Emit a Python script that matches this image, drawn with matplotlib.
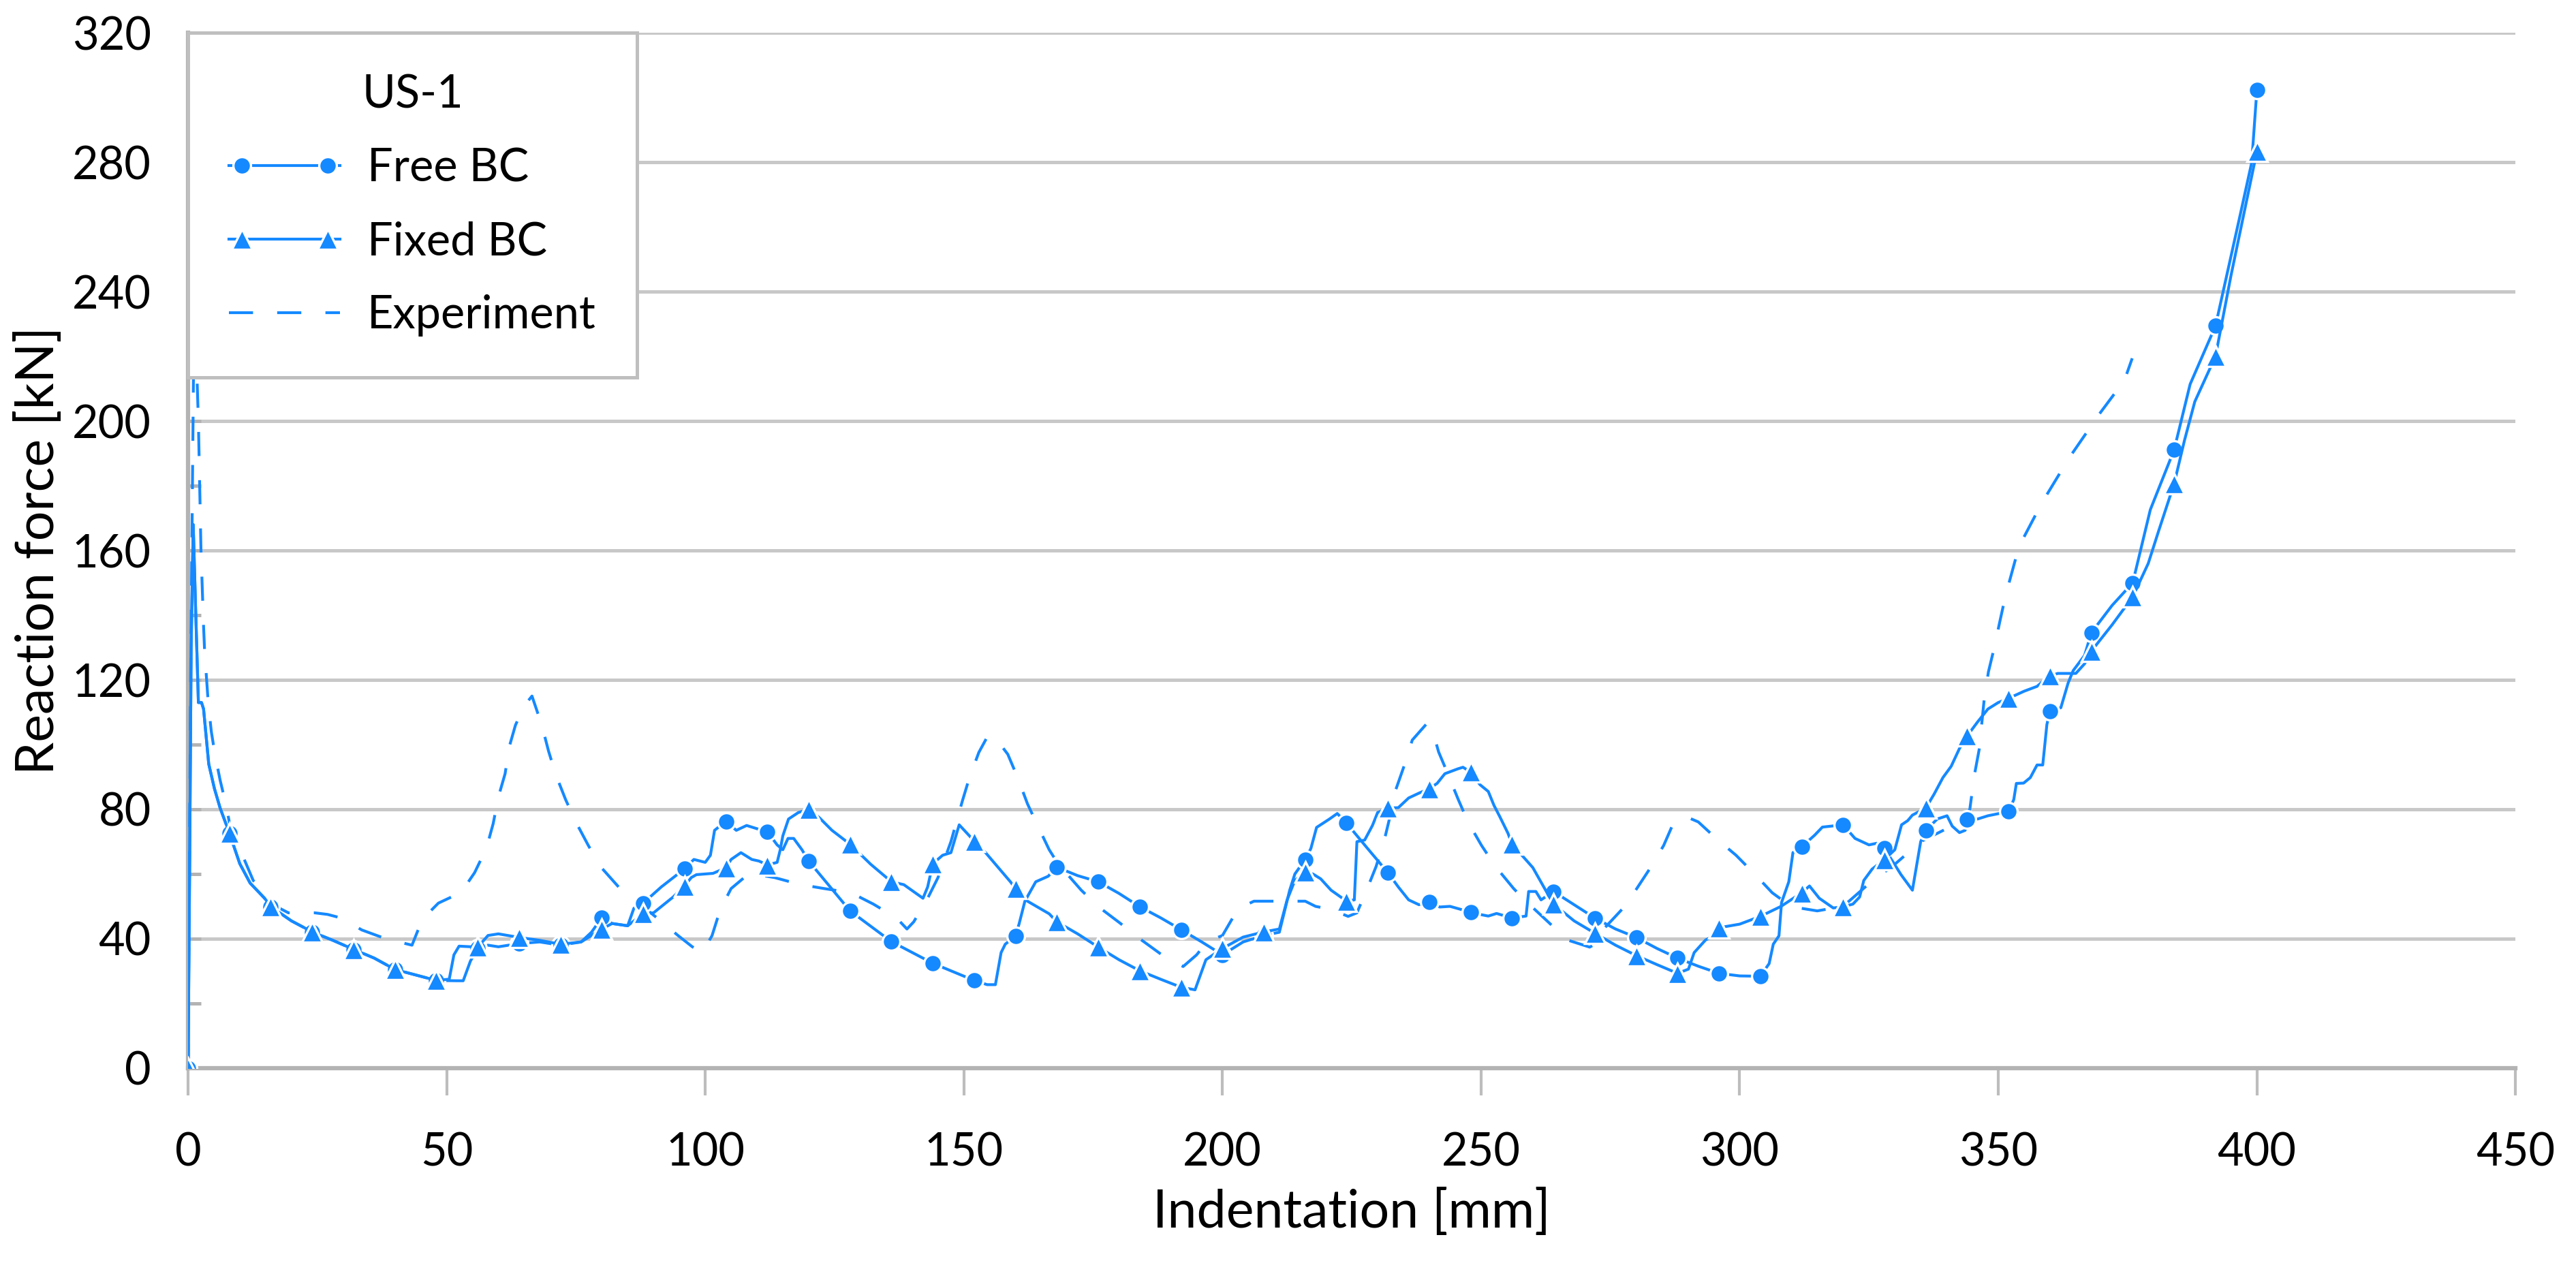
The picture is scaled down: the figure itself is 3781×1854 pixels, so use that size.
import matplotlib
matplotlib.use("Agg")
import matplotlib.pyplot as plt
from matplotlib.lines import Line2D
from matplotlib.legend_handler import HandlerLine2D
from matplotlib.ticker import MultipleLocator

plt.rcParams["font.family"] = ["Lato", "DejaVu Sans"]

# Free BC (circles every 8 mm)
free_x = [0, 0.3, 0.6, 1.0, 1.5, 2.0, 2.6, 3.0, 4.0, 5.1, 6.2, 8, 10, 12, 14.8, 16, 20, 24, 28, 32, 36, 40, 44, 48,
          52, 53.2, 54.6, 56, 58, 60, 64, 68, 72, 76, 78, 80, 82, 85, 86.2, 88, 91.5, 96, 97.8, 100, 101, 101.8, 104,
          106, 108, 110, 112, 113.9, 115, 116, 117.1, 118.7, 120, 128, 136, 144, 152, 154.5, 156.1, 157.2, 158, 160,
          160.7, 161.8, 163.9, 166.3, 168, 172, 176, 180, 184, 188, 192, 196, 200, 204, 208, 211, 213, 214, 216,
          217.1, 218.2, 220.6, 222.2, 224, 228, 232, 234, 236, 238, 240, 242, 244, 248, 249.8, 251.4, 253, 256,
          258.7, 259.2, 260.6, 261.6, 264, 268, 272, 276, 280, 284, 288, 292, 296, 300, 304, 305.7, 306.5, 307.6,
          308.1, 309.5, 310.3, 312, 314.5, 316, 320, 322.3, 325, 326.5, 328, 331.2, 333.4, 335, 336, 338.2, 340.1,
          341.1, 342.5, 343.6, 344, 346, 348, 352, 353, 353.5, 354.9, 356.2, 357.5, 358.6, 359.4, 360, 362.1, 363.5,
          364.5, 366.7, 368, 372, 376, 379.4, 384, 387.1, 392, 396.8, 399, 400]
free_y = [0, 60, 130, 168, 140, 113, 113, 111, 94, 86.4, 80.4, 72.6, 63.2, 57.2, 52.5, 49.9, 45.5, 42.1, 39.5, 36.7,
          34, 30.5, 28.8, 27.1, 27, 27, 33.1, 37, 38, 37.5, 38.5, 39, 38, 39, 42, 46.5, 44.7, 44, 49.4, 51, 56, 61.6,
          64.5, 63.6, 65.8, 73.5, 76.3, 73.5, 75, 74, 73.1, 69, 67.5, 71, 71, 67.5, 64, 48.6, 39.1, 32.4, 27.1, 25.8,
          25.8, 35.7, 38.3, 40.9, 44.7, 51.6, 57.6, 59.3, 62.1, 59.5, 57.6, 54, 49.9, 46.5, 42.8, 39, 35, 39, 41, 42,
          55, 60, 64.5, 67.9, 74.4, 76.9, 78.7, 75.7, 68, 60.4, 56, 52, 50.5, 51.4, 49.8, 50, 48.2, 47.5, 47, 47.8,
          46.4, 47, 54.6, 54.6, 52, 54.6, 50.5, 46.4, 43, 40.4, 37, 34, 31.5, 29.3, 28.5, 28.4, 32.3, 38.3, 40.9,
          51.2, 57.6, 66.6, 68.4, 72, 74.5, 75.2, 71, 69, 69.5, 67.9, 59.8, 55, 70, 73.5, 77, 78, 74.8, 72.8, 73.5,
          76.9, 77, 78, 79.3, 83, 88, 88.1, 89.8, 93.7, 93.7, 106.2, 110.3, 111.4, 119, 122.9, 127.6, 134.6, 143,
          150, 172.6, 191.1, 211.4, 229.4, 263.9, 279.9, 302.3]

# Fixed BC (triangles every 8 mm)
fixed_x = [0, 0.3, 0.6, 1.0, 1.5, 2.0, 2.6, 3.0, 4.0, 5.1, 6.2, 8, 10, 12, 14.8, 16, 20, 24, 28, 32, 36, 40, 44, 48,
           50.5, 51.4, 52.4, 56, 58, 60, 64, 68, 72, 76, 78, 80, 82, 85, 88, 90, 93.8, 96, 97.3, 98.3, 101.5, 104,
           105, 106.9, 109, 110.4, 112, 113.9, 114.5, 115, 116.1, 118, 120, 122, 124.5, 128, 132, 136, 138.4, 142.1,
           143, 144, 145.9, 147.5, 149.1, 152, 154.2, 159, 160, 162.3, 166.5, 168, 172, 176, 180, 184, 188, 192,
           194.7, 196.8, 200, 204, 208, 211, 212.5, 214, 216, 217.5, 219, 221, 224, 225.5, 226, 227.5, 229, 230, 232,
           234, 236, 238, 240, 241.5, 243, 245.5, 246.5, 248, 249.8, 251.4, 252.5, 253.6, 255.2, 256, 260, 264, 268,
           272, 276, 280, 284, 288, 290.1, 291.2, 293.4, 294.4, 296, 300, 304, 308, 312, 313.5, 315.4, 318.1, 320,
           321.9, 323.2, 324, 325.6, 328, 330, 331.3, 332.5, 333.4, 336, 337.6, 339.3, 340.9, 342.5, 344, 346, 348,
           350, 352, 355, 357.5, 358.6, 360, 361.5, 365, 366.7, 368, 372, 376, 379, 381, 384, 386, 388, 392, 395,
           398, 400]
fixed_y = [0, 60, 130, 168, 140, 113, 113, 111, 94, 86.4, 80.4, 72.6, 63.2, 57.2, 52.5, 49.9, 45.5, 42.1, 39.5,
           36.7, 34, 30.5, 28.8, 27.1, 27.5, 35, 37.7, 37.4, 41, 41.5, 40.4, 39.5, 38.3, 39, 41, 43, 44.7, 44, 47.7,
           48, 52.9, 56.3, 58.9, 59.8, 60.2, 61.9, 64.5, 66.6, 64.5, 64, 62.8, 63.6, 67.5, 71.8, 77, 79, 80, 77.5,
           73.5, 69.2, 63, 57.6, 56.7, 52.5, 56, 63.2, 65.8, 66.6, 75.2, 70.2, 66.6, 57.6, 55.5, 51.6, 47.7, 45.2,
           41.5, 37.4, 33.5, 30.1, 27.5, 25, 24.2, 33.5, 37, 40.5, 42.1, 43, 52, 58, 60.6, 60, 58.5, 55, 51.6, 52,
           70, 70.5, 75, 79, 80.4, 80.5, 83.5, 85, 86.4, 88, 91, 92.5, 93, 91.5, 87.6, 85.5, 81.2, 77.8, 72.6, 69.2,
           62, 50.7, 45.5, 41.7, 38, 34.8, 32, 29.3, 30.6, 35.7, 39.6, 40.4, 43.4, 44.5, 46.9, 50, 54.2, 56.3, 52.5,
           49.5, 49.9, 50.7, 52.9, 58, 61.5, 64.5, 67.5, 75.2, 76.5, 78.2, 80.4, 84.7, 89.8, 93.3, 98.8, 102.7, 107,
           111, 113, 114.3, 116.5, 118, 119.5, 121.2, 122, 122, 125, 128.9, 137, 145.7, 156, 166, 180.6, 194, 206,
           220, 245, 268, 283.3]

# Experiment (dashed)
exp_x = [0, 0.5, 1.2, 2.0, 2.5, 3.0, 3.2, 3.6, 3.9, 4.5, 5.2, 6.2, 7.4, 8.8, 10.2, 12.6, 14.8, 17, 19.4, 24.5, 27,
         29.6, 33.6, 38.2, 43.3, 45.3, 48.4, 52.8, 55.4, 57.7, 59, 60, 61.3, 62.1, 63.3, 65, 66.5, 68.4, 69.7, 71.1,
         73, 75, 77.4, 79.9, 83.3, 87, 91.3, 94.8, 97.5, 99.4, 101.3, 102.9, 105, 108.5, 113.4, 118.2, 123, 128.2,
         132.5, 137, 139, 140.3, 143, 145, 147.5, 149.7, 151, 152.9, 154.5, 155.9, 158.5, 160.4, 162.3, 164.2,
         166.5, 168.2, 172.7, 176, 180.3, 184, 188.3, 192.4, 195, 197, 200, 202.3, 203.3, 206.1, 211.2, 216, 218,
         221.1, 224.3, 226, 228, 229.7, 231.3, 232.4, 233.5, 235.1, 236.7, 239.4, 240.5, 241.8, 243.2, 245.6, 247.5,
         250.1, 252.8, 256.3, 258.4, 263.3, 266.7, 271, 272.9, 273.7, 277.5, 279.9, 282.9, 285.3, 287.4, 290.1, 292,
         295.8, 299.3, 303, 306.3, 310, 315, 320, 325, 330, 335, 340, 343, 344.5, 345.4, 346.3, 347.3, 348.1, 349.2,
         350.3, 351.4, 354, 358.5, 363.7, 369.6, 374.4, 375.9]
exp_y = [0, 120, 240, 200, 160, 136.6, 129, 120, 113, 104, 97, 89, 81, 69, 67, 58, 54, 50, 48, 48, 47.5, 46.4, 42.7,
         40, 38, 46, 51, 54.3, 60.4, 68, 75.6, 83.8, 91, 99.3, 106, 112, 115, 106, 98, 90.7, 83, 76, 68.8, 62, 55.9,
         51.2, 45.6, 40.9, 37.5, 35.7, 40.9, 49, 55.5, 60.2, 58.9, 56.8, 55.5, 54.2, 50.7, 46.4, 43, 45.2, 52.5,
         58.9, 70, 82.5, 89.4, 97.6, 102.3, 102.5, 97, 89.8, 81.7, 75.2, 67.5, 63.2, 55, 49.9, 44.7, 40, 35, 31.4,
         35, 39, 41, 47.3, 49.5, 51.6, 51.6, 51.6, 50, 49, 46.9, 48, 55.5, 62.3, 70.5, 77.8, 86, 93.3, 101.4, 106.3,
         105, 97.7, 92.4, 83, 76, 68.8, 62.3, 55.5, 52, 44.7, 39.6, 37.4, 39.1, 43, 49.5, 55, 62.3, 68.8, 76.5,
         77.4, 76.1, 70.5, 65.8, 59.8, 54.2, 49.9, 48.6, 50, 57, 63, 70, 74, 76, 80, 90.7, 98.4, 114.3, 122.5,
         129.8, 138, 146, 161.2, 174.9, 188.6, 202.3, 212.6, 219.4]

blue = "#1589FF"
dash = (8.5, 8.5)

fig = plt.figure(figsize=(3781 / 300, 1854 / 300), dpi=300)
ax = fig.add_axes([0.073, 0.1543, 0.9035, 0.8197])

# markers sit on every 8 mm
free_marks = [i for i, v in enumerate(free_x) if v % 8 == 0]
fixed_marks = [i for i, v in enumerate(fixed_x) if v % 8 == 0]

ax.plot(exp_x, exp_y, color=blue, lw=1.0, dashes=dash, zorder=3)
ax.plot(free_x, free_y, color=blue, lw=1.0, marker="o", ms=6.2, mec="white", mew=0.8,
        markevery=free_marks, zorder=4)
ax.plot(fixed_x, fixed_y, color=blue, lw=1.0, marker="^", ms=7, mec="white", mew=0.8,
        markevery=fixed_marks, zorder=5)

ax.set_xlim(0, 450)
ax.set_ylim(0, 320)
ax.set_xticks(range(0, 451, 50))
ax.yaxis.set_major_locator(MultipleLocator(40))
ax.yaxis.set_minor_locator(MultipleLocator(20))
ax.grid(axis="y", which="major", color="#C8C8C8", lw=1.2)
ax.set_axisbelow(True)

for s in ["top", "right"]:
    ax.spines[s].set_visible(False)
for s in ["left", "bottom"]:
    ax.spines[s].set_color("#B3B3B3")
    ax.spines[s].set_linewidth(1.5)

ax.tick_params(axis="x", direction="out", length=9.5, width=1.0, color="#BDBDBD", labelsize=16, pad=13)
ax.tick_params(axis="y", which="both", direction="in", length=4.5, width=1.2, color="#B3B3B3",
               labelsize=16, pad=13)
ax.tick_params(axis="y", which="minor", labelleft=False)

ax.set_xlabel("Indentation [mm]", fontsize=18.5, labelpad=5)
ax.set_ylabel("Reaction force [kN]", fontsize=18.5, labelpad=3)

# legend: full-length line, markers set in slightly from its ends
line_h = Line2D([], [], color=blue, lw=1.0)
free_h = Line2D([], [], ls="none", marker="o", ms=6.2, color=blue, mec="white", mew=0.8)
fixed_h = Line2D([], [], ls="none", marker="^", ms=7, color=blue, mec="white", mew=0.8)
exp_h = Line2D([], [], color=blue, lw=1.0, dashes=dash)
hmap = {line_h: HandlerLine2D(marker_pad=0), exp_h: HandlerLine2D(marker_pad=0),
        free_h: HandlerLine2D(marker_pad=0.28), fixed_h: HandlerLine2D(marker_pad=0.28)}

leg = ax.legend([(line_h, free_h), (line_h, fixed_h), exp_h], ["Free BC", "Fixed BC", "Experiment"],
                handler_map=hmap, title="US-1", loc="upper left", bbox_to_anchor=(0, 1), borderaxespad=0,
                fontsize=16, title_fontsize=16, numpoints=2, handlelength=2.45, handletextpad=0.6,
                labelspacing=0.69, borderpad=0.9, fancybox=False, framealpha=1, edgecolor="#BFBFBF")
leg.get_frame().set_linewidth(1.2)
leg.set_zorder(10)

fig.savefig("out.png", dpi=300)
